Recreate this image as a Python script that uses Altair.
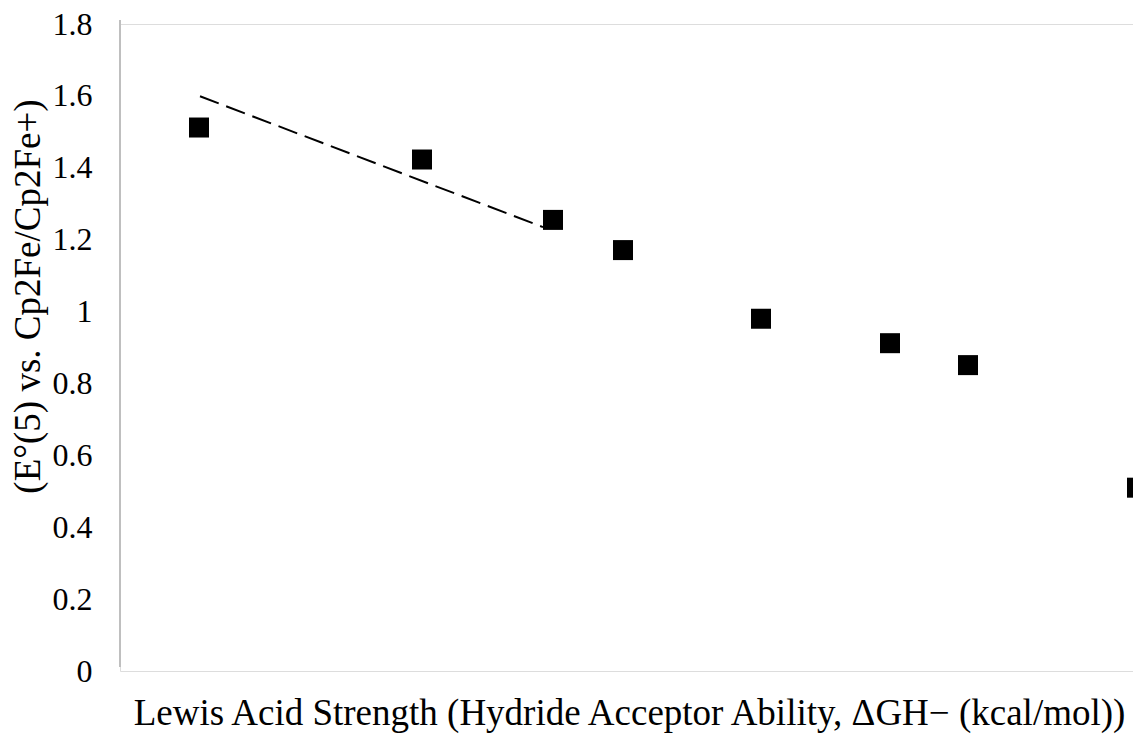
import altair as alt
import pandas as pd

# Data (x in arbitrary position units, no x labels shown)
x_pos = [79, 302, 433, 503, 641, 770, 848, 1017]
e_vals = [1.512, 1.423, 1.255, 1.171, 0.980, 0.912, 0.851, 0.510]

trend_x = [80, 423]
trend_y = [1.599, 1.235]

pts = pd.DataFrame({"x": x_pos, "y": e_vals})
trend = pd.DataFrame({"x": trend_x, "y": trend_y})

FONT = "Liberation Serif"

xscale = alt.Scale(domain=[0, 1013], nice=False, zero=False)
yscale = alt.Scale(domain=[0, 1.8], nice=False)

xaxis = alt.Axis(domain=False, ticks=False, labels=False, grid=False,
                 title="Lewis Acid Strength (Hydride Acceptor Ability, ΔGH− (kcal/mol))",
                 titleFont=FONT, titleFontSize=37, titleFontWeight="normal",
                 titleColor="black", titleX=509, titleY=53,
                 titleBaseline="alphabetic", titleAlign="center")
yaxis = alt.Axis(values=[0, 0.2, 0.4, 0.6, 0.8, 1, 1.2, 1.4, 1.6, 1.8],
                 format="~g",
                 domain=False, ticks=False, grid=False, labelPadding=28,
                 labelFont=FONT, labelFontSize=32, labelColor="black",
                 title="(E°(5) vs. Cp2Fe/Cp2Fe+)",
                 titleFont=FONT, titleFontSize=37, titleFontWeight="normal",
                 titleColor="black", titleAngle=-90, titleX=-92, titleY=272,
                 titleBaseline="middle", titleAlign="center")

# vertical axis line (drawn slightly above the label positions, as in the reference)
axis_line = alt.Chart(pts).mark_rule(color="#bfbfbf", strokeWidth=1.5).encode(
    x=alt.value(0), y=alt.value(-4), y2=alt.value(643)
)

points = alt.Chart(pts).mark_square(size=400, color="black", opacity=1, clip=False).encode(
    x=alt.X("x:Q", scale=xscale, axis=xaxis),
    y=alt.Y("y:Q", scale=yscale, axis=yaxis),
)

line = alt.Chart(trend).mark_line(color="black", strokeWidth=2, strokeDash=[20, 8]).encode(
    x=alt.X("x:Q", scale=xscale),
    y=alt.Y("y:Q", scale=yscale),
)

chart = alt.layer(axis_line, line, points).properties(
    width=1013,
    height=647,
    autosize=alt.AutoSizeParams(type="none"),
    padding={"left": 112, "top": 16, "right": 0, "bottom": 67},
).configure_view(stroke=None).configure(background="white")

chart.save("out.html", embed_options={"renderer": "svg", "actions": False})
